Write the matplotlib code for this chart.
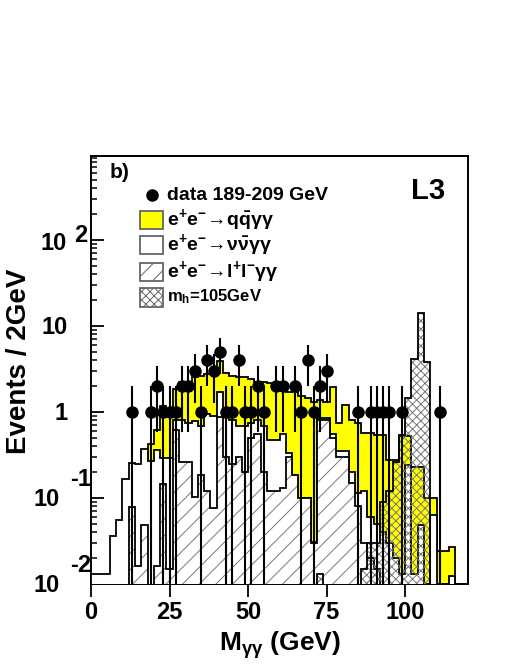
import numpy as np
import matplotlib
matplotlib.use("Agg")
import matplotlib.pyplot as plt
from matplotlib.patches import Rectangle
from matplotlib.lines import Line2D

plt.rcParams['font.family'] = ['Liberation Sans', 'DejaVu Sans']
plt.rcParams['font.weight'] = 'bold'
plt.rcParams['mathtext.fontset'] = 'custom'
plt.rcParams['mathtext.rm'] = 'Liberation Sans:bold'
plt.rcParams['mathtext.bf'] = 'Liberation Sans:bold'
plt.rcParams['mathtext.it'] = 'Liberation Sans:bold'
plt.rcParams['mathtext.sf'] = 'Liberation Sans'
plt.rcParams['mathtext.default'] = 'bf'
plt.rcParams['hatch.linewidth'] = 0.7

# ---------- data ----------
edges = np.arange(0, 122, 2)

data_mass = [13, 19, 21, 23, 25, 27, 29, 31, 33, 35, 37, 39, 41, 43, 45, 47, 49, 51, 53, 55,
             59, 61, 65, 67, 69, 71, 73, 75, 85, 89, 91, 93, 95, 99, 111]
data_counts = [1, 1, 2, 1, 1, 1, 2, 2, 3, 1, 4, 3, 5, 1, 1, 4, 1, 1, 2, 1,
               2, 2, 2, 1, 4, 1, 2, 3, 1, 1, 1, 1, 1, 1, 1]

# stacked totals (qq + nn + ll), (nn + ll), ll, and the higgs signal
qq_stack = [0, 0, 0, 0, 0, 0, 0, 0, 0, 0.43,
            0.62, 1.17, 1.05, 1.85, 2.25, 2.25, 2.57, 2.6, 2.8, 2.8,
            3.9, 2.82, 2.6, 2.57, 2.57, 2.4, 2.25, 2.25, 2.17, 2.06,
            2.0, 1.72, 1.72, 1.55, 1.45, 1.32, 1.38, 1.32, 1.97, 0.74,
            1.2, 0.8, 0.75, 0.57, 0.57, 0.54, 0.54, 0.28, 0.28, 0.52,
            0.52, 0.23, 0.23, 0.1, 0.1, 0.024, 0.024, 0.027, 0, 0]
nn_stack = [0.013, 0.013, 0.013, 0.036, 0.055, 0.166, 0.257, 0.246, 0.37, 0.27,
            0.36, 0.29, 0.29, 0.81, 0.81, 0.75, 0.78, 0.68, 0.94, 0.9,
            1.72, 0.88, 0.8, 0.68, 0.68, 0.75, 0.81, 0.68, 0.47, 0.47,
            0.55, 0.33, 0.185, 0.1, 0.1, 0.031, 0.85, 0.85, 0.55, 0.35,
            0.35, 0.2, 0.114, 0.12, 0.06, 0.05, 0.04, 0.03, 0.02, 0.013,
            0.24, 0.013, 0.048, 0, 0.063, 0, 0, 0.0125, 0, 0]
ll_bkg = [0, 0, 0, 0, 0, 0, 0.079, 0.016, 0.049, 0,
          0.016, 0.145, 0.015, 0.62, 0.26, 0.26, 0.104, 0.185, 0.12, 0.076,
          0.87, 0.3, 0.25, 0.3, 0.2, 0.5, 0.55, 0.2, 0.12, 0.12,
          0.13, 0.3, 0.185, 0.1, 0.1, 0.03, 0.8, 0.8, 0.5, 0.3,
          0.3, 0.15, 0.08, 0.03, 0.02, 0.015, 0, 0, 0, 0,
          0, 0, 0, 0, 0, 0, 0, 0, 0, 0]
higgs = [0, 0, 0, 0, 0, 0, 0, 0, 0, 0,
         0, 0, 0, 0, 0, 0, 0, 0, 0, 0,
         0, 0, 0, 0, 0, 0, 0, 0, 0, 0,
         0, 0, 0, 0, 0, 0, 0.013, 0, 0, 0,
         0, 0, 0, 0.015, 0.03, 0.03, 0.09, 0.12, 0.26, 0.54,
         1.45, 4.1, 14.3, 3.84, 0, 0, 0, 0, 0, 0]

W, H = 518, 670
LOW = 1e-4


def fx(x):
    return x / W


def fy(y):
    return 1 - y / H


def clean(v):
    v = np.asarray(v, dtype=float)
    return np.where(v > 0, v, LOW)


fig = plt.figure(figsize=(W / 100, H / 100), dpi=100)
ax = fig.add_axes([fx(91), fy(584), fx(468) - fx(91), fy(156) - fy(584)])
ax.set_yscale('log')

# ---------- histograms ----------
ax.stairs(clean(qq_stack), edges, baseline=LOW, fill=True, facecolor='#ffff00',
          edgecolor='black', linewidth=1.3, zorder=2)
ax.stairs(clean(nn_stack), edges, baseline=LOW, fill=True, facecolor='white',
          edgecolor='black', linewidth=1.3, zorder=3)
ax.stairs(clean(ll_bkg), edges, baseline=LOW, fill=True, facecolor='white',
          edgecolor='#777777', hatch='//', linewidth=0, zorder=4)
ax.stairs(clean(ll_bkg), edges, baseline=LOW, fill=False,
          edgecolor='black', linewidth=1.3, zorder=4.5)
ax.stairs(clean(higgs), edges, baseline=LOW, fill=True, facecolor='none',
          edgecolor='#777777', hatch='xxxx', linewidth=0, zorder=5)
ax.stairs(clean(higgs), edges, baseline=LOW, fill=False,
          edgecolor='black', linewidth=1.3, zorder=5.5)

# ---------- data points ----------
n = np.array(data_counts, dtype=float)
err_up = np.sqrt(n)
err_lo = n - np.maximum(n - np.sqrt(n), LOW)
ax.errorbar(data_mass, n, yerr=[err_lo, err_up], fmt='o', color='black',
            markersize=8, elinewidth=1.5, capsize=0, zorder=6)

# ---------- axes ----------
ax.set_xlim(0, 120)
ax.set_ylim(0.01, 950)
for s in ax.spines.values():
    s.set_linewidth(1.4)

ax.set_xticks([0, 25, 50, 75, 100])
ax.set_xticklabels(['0', '25', '50', '75', '100'], fontsize=17, fontweight='bold')
ax.tick_params(axis='x', direction='out', length=9, width=1.3, pad=3,
               top=False)
ax.xaxis.set_minor_locator(matplotlib.ticker.NullLocator())

ax.set_yticks([0.01, 0.1, 1, 10, 100])
ax.set_yticklabels([])
minor = [m * 10.0 ** e for e in range(-2, 3) for m in range(2, 10)]
ax.set_yticks([v for v in minor if v < 950], minor=True)
ax.tick_params(axis='y', which='major', direction='in', length=9, width=1.3,
               right=False)
ax.tick_params(axis='y', which='minor', direction='in', length=4.5, width=1.1,
               right=False)

# ROOT style y tick labels
fs = 17
fig.text(fx(60), fy(585), '10', fontsize=fs, fontweight='bold', ha='right', va='center')
fig.text(fx(70), fy(565), '-2', fontsize=fs, fontweight='bold', ha='left', va='center')
fig.text(fx(60), fy(500), '10', fontsize=fs, fontweight='bold', ha='right', va='center')
fig.text(fx(70), fy(479), '-1', fontsize=fs, fontweight='bold', ha='left', va='center')
fig.text(fx(68), fy(413), '1', fontsize=fs, fontweight='bold', ha='right', va='center')
fig.text(fx(68), fy(328), '10', fontsize=fs, fontweight='bold', ha='right', va='center')
fig.text(fx(67), fy(243), '10', fontsize=fs, fontweight='bold', ha='right', va='center')
fig.text(fx(74), fy(236), '2', fontsize=fs, fontweight='bold', ha='left', va='center')

fig.text(fx(19), fy(361), 'Events / 2GeV', fontsize=20, fontweight='bold',
         rotation=90, ha='center', va='center')
fig.text(fx(280), fy(645), r'$\mathbf{M}_{\mathsf{\gamma\gamma}}$ (GeV)', fontsize=19,
         fontweight='bold', ha='center', va='center')

fig.text(fx(110), fy(172), 'b)', fontsize=15, fontweight='bold', ha='left', va='center')
fig.text(fx(445), fy(191), 'L3', fontsize=21, fontweight='bold', ha='right', va='center')

# ---------- legend ----------
fig.add_artist(Line2D([fx(152)], [fy(195)], marker='o', color='black', markersize=8,
                      transform=fig.transFigure))
fig.text(fx(167), fy(195), 'data 189-209 GeV', fontsize=14, fontweight='bold',
         ha='left', va='center')

boxes = [
    (211, '#ffff00', None, r'$\mathbf{e^{+}e^{-}}\!\rightarrow\!\mathbf{q\bar{q}}\mathsf{\gamma\gamma}$', 14),
    (236, 'white', None, r'$\mathbf{e^{+}e^{-}}\!\rightarrow\!\mathsf{\nu\bar{\nu}\gamma\gamma}$', 14),
    (262.5, 'white', '//', r'$\mathbf{e^{+}e^{-}}\!\rightarrow\!\mathbf{l^{+}l^{-}}\mathsf{\gamma\gamma}$', 14),
    (288, 'white', 'xxxx', r'$\mathbf{m_{h}}$=105GeV', 12),
]
for top, fc, hatch, label, size in boxes:
    r = Rectangle((fx(140), fy(top + 18.5)), fx(163) - fx(140), fy(top) - fy(top + 18.5),
                  transform=fig.transFigure, facecolor=fc, edgecolor='#666666',
                  linewidth=1.3, hatch=hatch)
    fig.add_artist(r)
    fig.text(fx(167), fy(top + 9), label, fontsize=size, fontweight='bold',
             ha='left', va='center')

fig.savefig('out.png', dpi=100)
